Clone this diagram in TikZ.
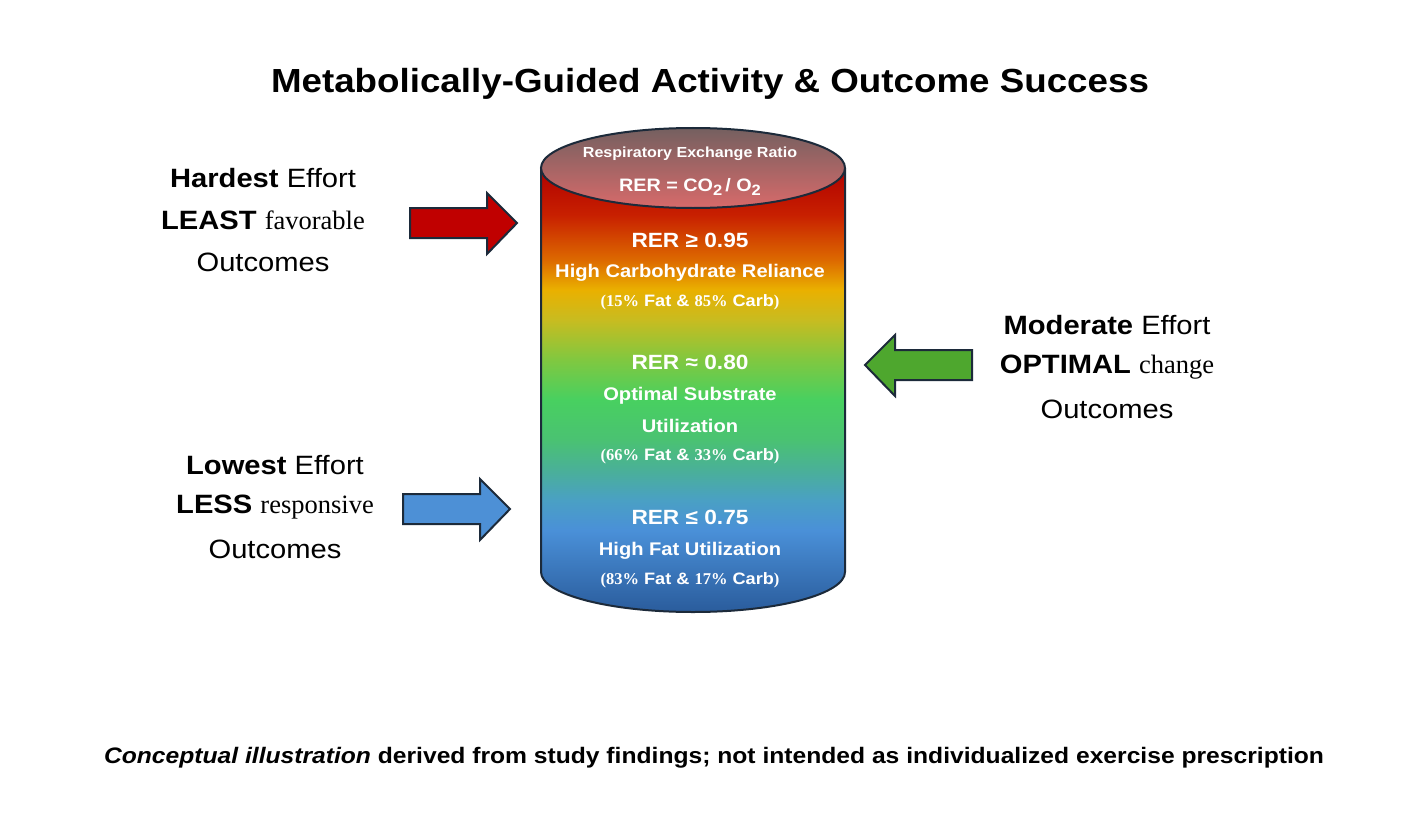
\documentclass[tikz,border=0pt]{standalone}
\usepackage{fontspec}
\setmainfont[FakeStretch=1.1]{Liberation Sans}
\newfontfamily\serfont{Liberation Serif}
\definecolor{outline}{HTML}{1C2A3A}
\definecolor{redarrow}{HTML}{C00000}
\definecolor{bluearrow}{HTML}{4D90D6}
\definecolor{greenarrow}{HTML}{4EA72E}
\definecolor{lidtop}{HTML}{746060}
\definecolor{lidbot}{HTML}{D86A6A}
\definecolor{sa}{HTML}{2A5A98}
\definecolor{sb}{HTML}{2A5C9C}
\definecolor{sc}{HTML}{4A90D8}
\definecolor{sd}{HTML}{4AA0C4}
\definecolor{se}{HTML}{4AB098}
\definecolor{sf}{HTML}{4AC272}
\definecolor{sg}{HTML}{48D060}
\definecolor{sh}{HTML}{80C840}
\definecolor{si}{HTML}{C8BC20}
\definecolor{sj}{HTML}{EAB000}
\definecolor{sk}{HTML}{DD6A00}
\definecolor{sl}{HTML}{C82000}
\definecolor{sm}{HTML}{B00000}
\pgfdeclareverticalshading{rershade}{100bp}{%
 color(0bp)=(sa);
 color(25bp)=(sb);
 color(34.2bp)=(sc);
 color(37.6bp)=(sd);
 color(41bp)=(se);
 color(44.4bp)=(sf);
 color(48.9bp)=(sg);
 color(53.4bp)=(sh);
 color(57.9bp)=(si);
 color(61.3bp)=(sj);
 color(64.6bp)=(sk);
 color(69.7bp)=(sl);
 color(75bp)=(sm);
 color(100bp)=(sm)}
\tikzset{
  wtxt/.style={text=white,inner sep=0pt,anchor=center},
  sidetxt/.style={font=\fontsize{26.5}{30}\selectfont,align=center,inner sep=0pt,anchor=center},
  blockarrow/.style={draw=outline,line width=2pt,line join=miter},
}
\begin{document}
\begin{tikzpicture}[x=1pt,y=-1pt]
\useasboundingbox[fill=white] (0,0) rectangle (1407,824);
% title
\node[font=\fontsize{33.4}{38}\selectfont\bfseries,inner sep=0pt] (title) at (710,84) {Metabolically-Guided Activity \& Outcome Success};
% cylinder body
\path[shading=rershade] (541,168) -- (541,572) arc[start angle=180,end angle=0,x radius=152,y radius=40] -- (845,168) -- cycle;
\draw[outline,line width=2pt] (541,168) -- (541,572) arc[start angle=180,end angle=0,x radius=152,y radius=40] -- (845,168);
% lid
\draw[outline,line width=2pt,top color=lidtop,bottom color=lidbot] (693,168) ellipse[x radius=152,y radius=40];
% cylinder texts
\node[wtxt,font=\bfseries\fontsize{14.6}{17}\selectfont] (rerlabel) at (690,154) {Respiratory Exchange Ratio};
\node[wtxt,font=\bfseries\fontsize{18}{21}\selectfont] (rerformula) at (690,187) {RER = CO\raisebox{-0.4ex}{\fontsize{15}{16}\selectfont 2}\,/ O\raisebox{-0.4ex}{\fontsize{15}{16}\selectfont 2}};
\node[wtxt,font=\bfseries\fontsize{20.6}{24}\selectfont] (r1) at (690,240) {RER ≥ 0.95};
\node[wtxt,font=\bfseries\fontsize{18.3}{22}\selectfont] (r1a) at (690,273) {High Carbohydrate Reliance};
\node[wtxt,font=\bfseries\fontsize{16.5}{20}\selectfont] (r1b) at (690,302) {{\serfont(15\%} Fat \& {\serfont 85\%} Carb{\serfont)}};
\node[wtxt,font=\bfseries\fontsize{20.6}{24}\selectfont] (r2) at (690,362) {RER ≈ 0.80};
\node[wtxt,font=\bfseries\fontsize{18.3}{22}\selectfont] (r2a) at (690,396) {Optimal Substrate};
\node[wtxt,font=\bfseries\fontsize{18.3}{22}\selectfont] (r2b) at (690,426) {Utilization};
\node[wtxt,font=\bfseries\fontsize{16.5}{20}\selectfont] (r2c) at (690,456) {{\serfont(66\%} Fat \& {\serfont 33\%} Carb{\serfont)}};
\node[wtxt,font=\bfseries\fontsize{20.6}{24}\selectfont] (r3) at (690,517) {RER ≤ 0.75};
\node[wtxt,font=\bfseries\fontsize{18.3}{22}\selectfont] (r3a) at (690,551) {High Fat Utilization};
\node[wtxt,font=\bfseries\fontsize{16.5}{20}\selectfont] (r3b) at (690,580) {{\serfont(83\%} Fat \& {\serfont 17\%} Carb{\serfont)}};
% arrows
\draw[blockarrow,fill=redarrow] (410,208) -- (487,208) -- (487,193) -- (517,223) -- (487,254) -- (487,238) -- (410,238) -- cycle;
\draw[blockarrow,fill=bluearrow] (403,494) -- (480,494) -- (480,479) -- (510,509) -- (480,540) -- (480,524) -- (403,524) -- cycle;
\draw[blockarrow,fill=greenarrow] (972,350) -- (895,350) -- (895,335) -- (865,365) -- (895,396) -- (895,380) -- (972,380) -- cycle;
% side texts
\node[sidetxt] (h1) at (263,178) {\textbf{Hardest} Effort};
\node[sidetxt] (h2) at (263,220) {\textbf{LEAST} {\serfont favorable}};
\node[sidetxt] (h3) at (263,262) {Outcomes};
\node[sidetxt] (l1) at (275,465) {\textbf{Lowest} Effort};
\node[sidetxt] (l2) at (275,507) {\textbf{LESS} {\serfont responsive}};
\node[sidetxt] (l3) at (275,549) {Outcomes};
\node[sidetxt] (m1) at (1107,325) {\textbf{Moderate} Effort};
\node[sidetxt] (m2) at (1107,367) {\textbf{OPTIMAL} {\serfont change}};
\node[sidetxt] (m3) at (1107,409) {Outcomes};
% footer
\node[font=\fontsize{22.4}{26}\selectfont\bfseries,inner sep=0pt] (foot) at (714,758) {\textit{Conceptual illustration} derived from study findings; not intended as individualized exercise prescription};
\end{tikzpicture}
\end{document}
